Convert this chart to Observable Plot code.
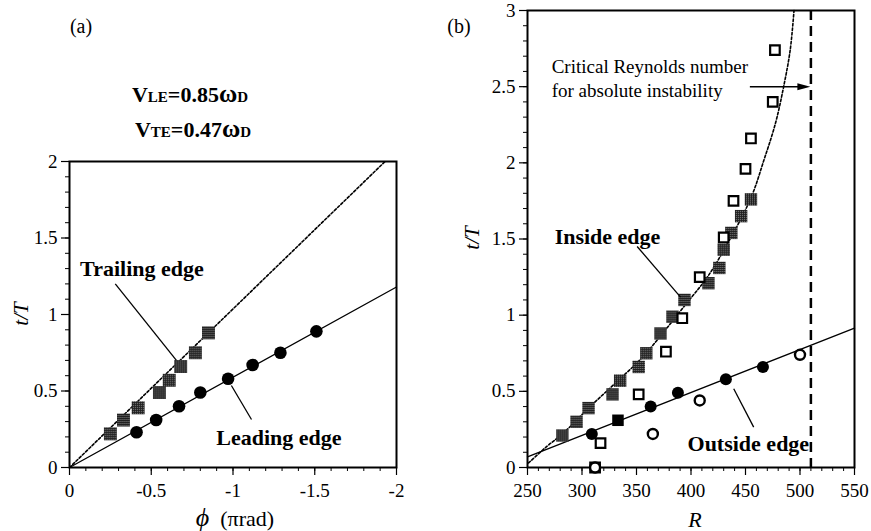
<!DOCTYPE html>
<html>
<head>
<meta charset="utf-8">
<script src="https://cdn.jsdelivr.net/npm/d3@7"></script>
<script src="https://cdn.jsdelivr.net/npm/@observablehq/plot@0.6"></script>
<style>
  body { margin: 0; background: white; }
  #wrap { position: relative; width: 871px; height: 531px; background: white; overflow: hidden; }
</style>
</head>
<body>
<svg width="0" height="0" style="position:absolute">
  <defs>
    <pattern id="stip" width="2" height="2" patternUnits="userSpaceOnUse">
      <rect width="2" height="2" fill="#1e1e1e"/>
      <rect x="1" y="1" width="1" height="1" fill="#8a8a8a"/>
    </pattern>
  </defs>
</svg>
<div id="wrap"></div>
<script>
// ---------- Panel (a) data ----------
const phiTrailing = [-0.25, -0.33, -0.42, -0.55, -0.61, -0.68, -0.77, -0.85];
const tTrailing   = [0.22, 0.31, 0.39, 0.49, 0.57, 0.66, 0.75, 0.88];
const phiLeading  = [-0.41, -0.53, -0.67, -0.80, -0.97, -1.12, -1.29, -1.51];
const tLeading    = [0.23, 0.31, 0.40, 0.49, 0.58, 0.67, 0.75, 0.89];
const fitLeadingPhi  = [0, -2];
const fitLeadingT    = [0, 1.18];
const fitTrailingPhi = [0, -1.93];
const fitTrailingT   = [0, 2];
const xTicksA = [0, -0.5, -1, -1.5, -2];
const yTicksA = [0, 0.5, 1, 1.5, 2];

// ---------- Panel (b) data ----------
const insideR = [282, 295, 306, 328, 335, 352, 359, 372, 383, 394, 416, 426, 430, 437, 446, 455];
const insideT = [0.21, 0.30, 0.39, 0.48, 0.57, 0.66, 0.75, 0.88, 0.99, 1.10, 1.21, 1.31, 1.43, 1.54, 1.65, 1.76];
const insideOpenR = [312, 317, 352, 377, 392, 408, 430, 439, 450, 455, 475, 477];
const insideOpenT = [0.00, 0.16, 0.48, 0.76, 0.98, 1.25, 1.51, 1.75, 1.96, 2.16, 2.40, 2.74];
const outsideR = [309, 363, 388, 432, 466];
const outsideT = [0.22, 0.40, 0.49, 0.58, 0.66];
const outsideSquareR = [333];
const outsideSquareT = [0.31];
const outsideOpenR = [312, 365, 408, 500];
const outsideOpenT = [0.00, 0.22, 0.44, 0.74];
const outsideFitR = [250, 550];
const outsideFitT = [0.07, 0.915];
const insideCurveR = [251, 268, 282, 306, 330, 355, 375, 395, 415, 435, 455, 467, 477.5, 485, 491, 494.5];
const insideCurveT = [0.03, 0.14, 0.22, 0.39, 0.55, 0.72, 0.89, 1.07, 1.25, 1.49, 1.77, 2.02, 2.26, 2.50, 2.74, 3.0];
const criticalR = 510;
const arrowR = [454, 509.5];
const arrowT = 2.5;
const xTicksB = [250, 300, 350, 400, 450, 500, 550];
const yTicksB = [0, 0.5, 1, 1.5, 2, 2.5, 3];

const zip = (xs, ys) => xs.map((x, i) => ({x, y: ys[i]}));
const FONT = "'Liberation Serif', 'Times New Roman', serif";
const fmt = d => String(d);
const style = {fontFamily: FONT, fontSize: "19px", background: "transparent", color: "black", overflow: "visible"};

function axes(xMajor, yMajor, xMinor, yMinor) {
  return [
    Plot.axisX({ticks: xMinor, tickSize: 4, tickFormat: () => "", label: null, strokeWidth: 1}),
    Plot.axisY({ticks: yMinor, tickSize: 4, tickFormat: () => "", label: null, strokeWidth: 1}),
    Plot.axisX({ticks: xMajor, tickSize: 8, tickPadding: 8, tickFormat: fmt, label: null, strokeWidth: 1.2, fontSize: 19, fontFamily: FONT}),
    Plot.axisY({ticks: yMajor, tickSize: 8, tickPadding: 4, tickFormat: fmt, label: null, strokeWidth: 1.2, fontSize: 19, fontFamily: FONT}),
    Plot.frame({stroke: "black", strokeWidth: 2})
  ];
}

// ---------- Panel (a) ----------
const svgA = Plot.plot({
  width: 436, height: 531,
  marginLeft: 69, marginRight: 40, marginTop: 161, marginBottom: 64,
  style,
  x: {domain: [0, -2]},
  y: {domain: [0, 2]},
  marks: [
    ...axes(xTicksA, yTicksA, d3.range(0, 21).map(i => -i / 10), d3.range(0, 21).map(i => i / 10)),
    Plot.line(zip(fitTrailingPhi, fitTrailingT), {x: "x", y: "y", stroke: "black", strokeWidth: 1.6, strokeDasharray: "2.5,2"}),
    Plot.line(zip(fitLeadingPhi, fitLeadingT), {x: "x", y: "y", stroke: "black", strokeWidth: 1.3}),
    Plot.dot(zip(phiTrailing, tTrailing), {x: "x", y: "y", symbol: "square", r: 7.3, fill: "url(#stip)"}),
    Plot.dot(zip(phiLeading, tLeading), {x: "x", y: "y", r: 6.3, fill: "black"}),
    Plot.link([{x1: -0.28, y1: 1.20, x2: -0.654, y2: 0.70}, {x1: -0.99, y1: 0.536, x2: -1.113, y2: 0.314}],
      {x1: "x1", y1: "y1", x2: "x2", y2: "y2", stroke: "black", strokeWidth: 1.3}),
    Plot.text([{x: -0.443, y: 1.30, t: "Trailing edge"}, {x: -1.281, y: 0.196, t: "Leading edge"}],
      {x: "x", y: "y", text: "t", fontSize: 22, fontWeight: "bold", fontFamily: FONT, fill: "black"})
  ]
});

// ---------- Panel (b) ----------
const triHead = {draw(ctx) { ctx.moveTo(0, 0); ctx.lineTo(-13, -3.5); ctx.lineTo(-13, 3.5); ctx.closePath(); }};
const svgB = Plot.plot({
  width: 436, height: 531,
  marginLeft: 92, marginRight: 17, marginTop: 10, marginBottom: 64,
  style,
  x: {domain: [250, 550]},
  y: {domain: [0, 3]},
  marks: [
    ...axes(xTicksB, yTicksB, d3.range(250, 551, 10), d3.range(0, 31).map(i => i / 10)),
    Plot.ruleX([criticalR], {stroke: "black", strokeWidth: 2.5, strokeDasharray: "10,6"}),
    Plot.line(zip(insideCurveR, insideCurveT), {x: "x", y: "y", stroke: "black", strokeWidth: 1.6, strokeDasharray: "2.5,2", curve: "catmull-rom"}),
    Plot.line(zip(outsideFitR, outsideFitT), {x: "x", y: "y", stroke: "black", strokeWidth: 1.3}),
    Plot.dot(zip(insideR, insideT), {x: "x", y: "y", symbol: "square", r: 7.0, fill: "url(#stip)"}),
    Plot.dot(zip(outsideR, outsideT), {x: "x", y: "y", r: 6.0, fill: "black"}),
    Plot.dot(zip(outsideSquareR, outsideSquareT), {x: "x", y: "y", symbol: "square", r: 6.5, fill: "black"}),
    Plot.dot(zip(insideOpenR, insideOpenT), {x: "x", y: "y", symbol: "square", r: 5.4, fill: "white", stroke: "black", strokeWidth: 2.2}),
    Plot.dot(zip(outsideOpenR, outsideOpenT), {x: "x", y: "y", r: 5.0, fill: "white", stroke: "black", strokeWidth: 2.4}),
    Plot.link([{x1: arrowR[0], x2: arrowR[1] - 5, y: arrowT}], {x1: "x1", x2: "x2", y1: "y", y2: "y", stroke: "black", strokeWidth: 1.5}),
    Plot.dot([{x: arrowR[1], y: arrowT}], {x: "x", y: "y", symbol: triHead, fill: "black", stroke: "none"}),
    Plot.link([{x1: 350.6, y1: 1.451, x2: 390.4, y2: 1.118}, {x1: 439.2, y1: 0.517, x2: 457.5, y2: 0.265}],
      {x1: "x1", y1: "y1", x2: "x2", y2: "y2", stroke: "black", strokeWidth: 1.3}),
    Plot.text([{x: 323.4, y: 1.516, t: "Inside edge"}, {x: 452.6, y: 0.156, t: "Outside edge"}],
      {x: "x", y: "y", text: "t", fontSize: 22, fontWeight: "bold", fontFamily: FONT, fill: "black"}),
    Plot.text([{x: 272.2, y: 2.632, t: "Critical Reynolds number"}, {x: 272.2, y: 2.475, t: "for absolute instability"}],
      {x: "x", y: "y", text: "t", fontSize: 19, textAnchor: "start", fontFamily: FONT, fill: "black"})
  ]
});

const wrap = document.getElementById("wrap");
for (const [svg, left] of [[svgA, 0], [svgB, 435]]) {
  svg.style.position = "absolute";
  svg.style.top = "0px";
  svg.style.left = left + "px";
  wrap.appendChild(svg);
}

// extra texts: panel labels, headings, axis titles
function addText(svg, x, y, parts, opts = {}) {
  const t = d3.select(svg).append("text")
    .attr("x", x).attr("y", y)
    .attr("text-anchor", opts.anchor || "middle")
    .attr("font-family", FONT)
    .attr("font-size", opts.size || 19)
    .attr("font-weight", opts.weight || "normal")
    .attr("fill", "black");
  if (opts.rotate) t.attr("transform", `rotate(${opts.rotate},${x},${y})`);
  for (const p of parts) {
    const s = t.append("tspan").text(p.t);
    if (p.size) s.attr("font-size", p.size);
    if (p.italic) s.attr("font-style", "italic");
  }
  return t;
}

addText(svgA, 81, 33, [{t: "(a)"}], {size: 20});
addText(svgA, 190, 102, [{t: "V"}, {t: "LE", size: 15}, {t: "=0.85"}, {t: "ω", size: 25}, {t: "D", size: 15}], {weight: "bold", size: 22});
addText(svgA, 193, 137, [{t: "V"}, {t: "TE", size: 15}, {t: "=0.47"}, {t: "ω", size: 25}, {t: "D", size: 15}], {weight: "bold", size: 22});
addText(svgA, 28, 314, [{t: "t/T", italic: true}], {rotate: -90, size: 21});
addText(svgA, 235, 526, [{t: "ϕ", italic: true, size: 26}, {t: "\u2002(πrad)"}], {size: 22});

addText(svgB, 24, 33, [{t: "(b)"}], {size: 20});
addText(svgB, 44, 238, [{t: "t/T", italic: true}], {rotate: -90, size: 21});
addText(svgB, 260, 527, [{t: "R", italic: true}], {size: 22});
</script>
</body>
</html>
